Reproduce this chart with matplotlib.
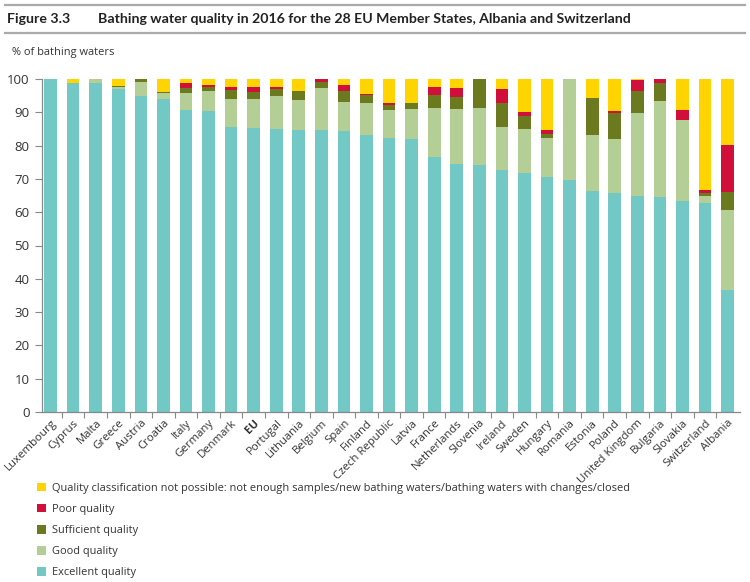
import matplotlib
matplotlib.use("Agg")
import matplotlib.pyplot as plt
from matplotlib.patches import Patch
from matplotlib.lines import Line2D
import numpy as np

countries = ["Luxembourg", "Cyprus", "Malta", "Greece", "Austria", "Croatia", "Italy",
             "Germany", "Denmark", "EU", "Portugal", "Lithuania", "Belgium", "Spain",
             "Finland", "Czech Republic", "Latvia", "France", "Netherlands", "Slovenia",
             "Ireland", "Sweden", "Hungary", "Romania", "Estonia", "Poland",
             "United Kingdom", "Bulgaria", "Slovakia", "Switzerland", "Albania"]

excellent = [100.0, 98.9, 98.7, 96.9, 94.9, 93.9, 90.7, 90.5, 85.7, 85.3, 84.9, 84.7, 84.7,
             84.4, 83.2, 82.3, 81.9, 76.5, 74.5, 74.2, 72.7, 71.7, 70.5, 69.7, 66.5, 65.9,
             65.0, 64.7, 63.5, 62.7, 36.7]
good = [0.0, 0.0, 1.3, 0.8, 4.2, 1.8, 5.0, 5.9, 8.2, 8.6, 10.0, 9.0, 12.5,
        8.8, 9.5, 8.4, 9.0, 14.7, 16.4, 17.2, 13.0, 13.2, 11.7, 30.3, 16.7, 16.1,
        24.9, 28.8, 24.2, 2.3, 24.0]
sufficient = [0.0, 0.0, 0.0, 0.1, 0.9, 0.4, 1.6, 1.3, 2.9, 2.2, 2.0, 2.7, 1.9,
              3.3, 2.4, 1.4, 1.8, 4.0, 3.6, 8.6, 7.0, 4.0, 1.2, 0.0, 11.0, 7.7,
              6.6, 5.2, 0.0, 0.8, 5.5]
poor = [0.0, 0.0, 0.0, 0.0, 0.0, 0.0, 1.6, 0.4, 0.9, 1.6, 0.8, 0.0, 0.9,
        1.7, 0.4, 0.6, 0.0, 2.5, 2.7, 0.0, 4.2, 1.3, 1.3, 0.0, 0.0, 0.8,
        3.1, 1.3, 3.0, 1.0, 14.0]
not_classified = [0.0, 1.1, 0.0, 2.2, 0.0, 3.9, 1.1, 1.9, 2.3, 2.3, 2.3, 3.6, 0.0,
                  1.8, 4.5, 7.3, 7.3, 2.3, 2.8, 0.0, 3.1, 9.8, 15.3, 0.0, 5.8, 9.5,
                  0.4, 0.0, 9.3, 33.2, 19.8]

yticks = [0, 10, 20, 30, 40, 50, 60, 70, 80, 90, 100]

labels = ["Quality classification not possible: not enough samples/new bathing waters/bathing waters with changes/closed",
          "Poor quality", "Sufficient quality", "Good quality", "Excellent quality"]

c_exc = "#72c8c5"
c_good = "#b3cf95"
c_suff = "#6b7a1f"
c_poor = "#d0103a"
c_ncl = "#ffd400"

plt.rcParams['font.family'] = ['Open Sans', 'DejaVu Sans']

fig = plt.figure(figsize=(7.5, 5.82), dpi=100)
W, H = 750, 582
ax = fig.add_axes([42 / W, 1 - 412 / H, (740 - 42) / W, (412 - 79) / H])

x = np.arange(len(countries))
bw = 0.56
series = [(excellent, c_exc), (good, c_good), (sufficient, c_suff), (poor, c_poor), (not_classified, c_ncl)]
bottom = np.zeros(len(countries))
for vals, col in series:
    v = np.array(vals)
    ax.bar(x, v, bw, bottom=bottom, color=col, edgecolor='none')
    bottom += v

ax.set_xlim(-0.38, 30.55)
ax.set_ylim(0, 100)
ax.set_yticks(yticks)
ax.set_yticklabels([str(t) for t in yticks], fontsize=9.5, color="#333333")
ax.tick_params(axis='y', length=5, width=0.8, color="#888888", pad=4)

ax.set_xticks(x)
ax.set_xticklabels(countries, rotation=45, ha='right', rotation_mode='anchor',
                   fontsize=8.2, color="#333333")
for lbl in ax.get_xticklabels():
    if lbl.get_text() == "EU":
        lbl.set_fontweight('bold')
ax.tick_params(axis='x', length=0, pad=4)
ax.set_xticks(np.arange(len(countries) - 1) + 0.5, minor=True)
ax.tick_params(axis='x', which='minor', length=4, width=0.8, color="#888888")

for s in ['top', 'right']:
    ax.spines[s].set_visible(False)
for s in ['left', 'bottom']:
    ax.spines[s].set_color("#888888")
    ax.spines[s].set_linewidth(0.9)

# Header rules and title
fig.add_artist(Line2D([5 / W, 745 / W], [1 - 5 / H, 1 - 5 / H], color="#aaaaaa", lw=1.6))
fig.add_artist(Line2D([5 / W, 745 / W], [1 - 33 / H, 1 - 33 / H], color="#aaaaaa", lw=1.6))
fig.text(7 / W, 1 - 19 / H, "Figure 3.3", fontsize=10.2, fontweight='bold',
         family=['Lato', 'DejaVu Sans'], va='center', ha='left', color="#222222")
fig.text(98 / W, 1 - 19 / H,
         "Bathing water quality in 2016 for the 28 EU Member States, Albania and Switzerland",
         fontsize=10.15, fontweight='bold', family=['Lato', 'DejaVu Sans'],
         va='center', ha='left', color="#222222")
fig.text(12 / W, 1 - 53 / H, "% of bathing waters", fontsize=7.9, va='center', ha='left',
         color="#333333")

handles = [Patch(facecolor=c_ncl), Patch(facecolor=c_poor), Patch(facecolor=c_suff),
           Patch(facecolor=c_good), Patch(facecolor=c_exc)]
fig.legend(handles, labels, loc='upper left', bbox_to_anchor=(37 / W, 1 - 483 / H),
           frameon=False, fontsize=7.9, handlelength=0.8, handleheight=0.8,
           handletextpad=0.6, labelspacing=0.92, borderaxespad=0, borderpad=0,
           labelcolor="#333333")

fig.savefig("out.png", dpi=100)
